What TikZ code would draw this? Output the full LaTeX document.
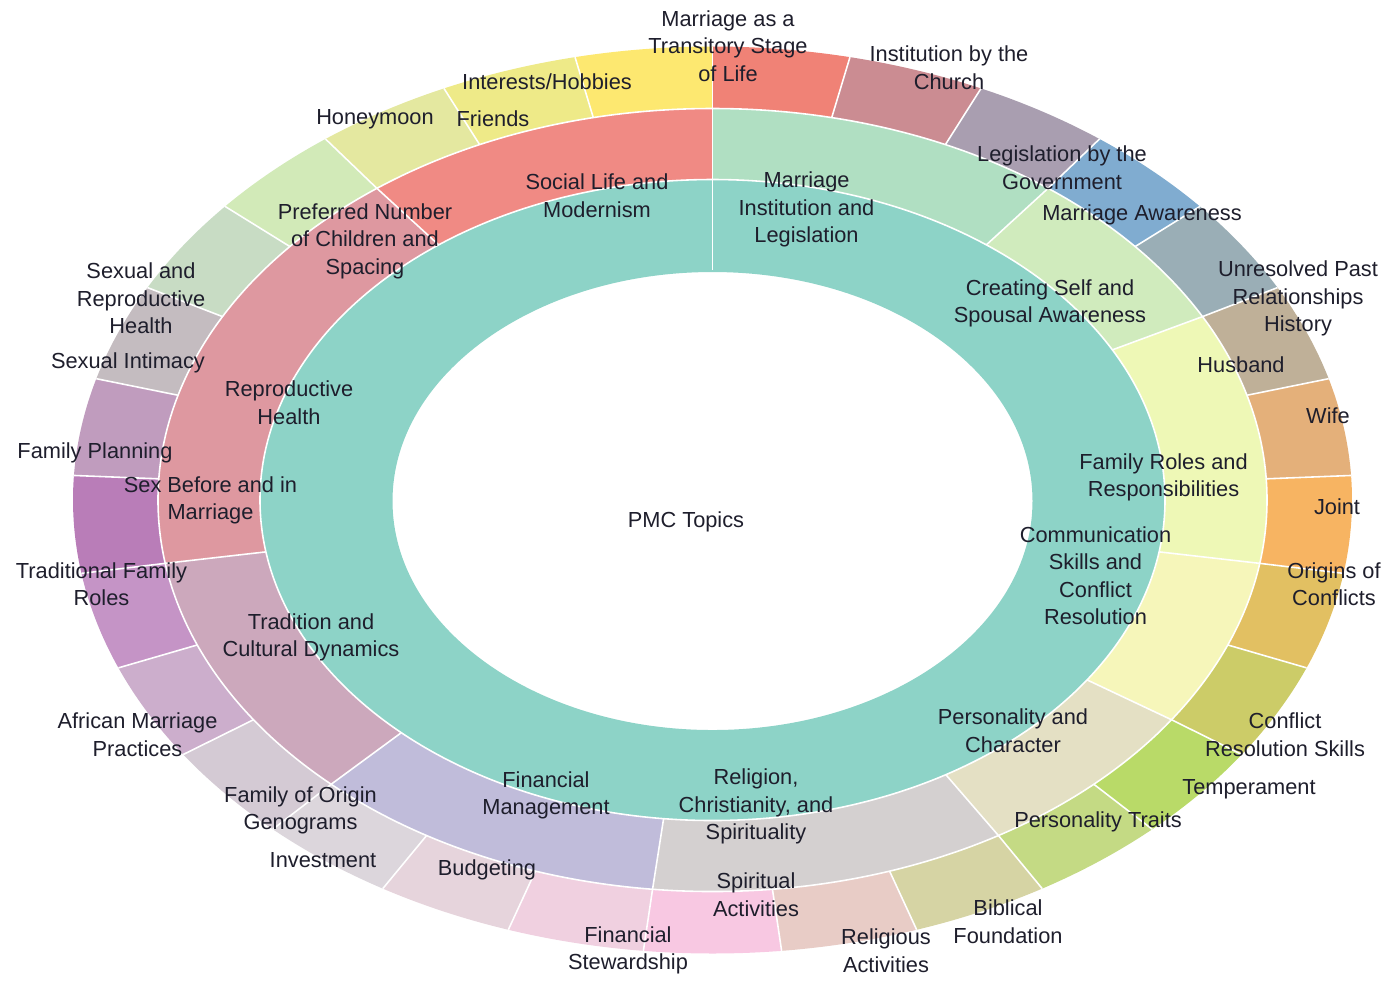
\documentclass[tikz,border=0pt]{standalone}
\usepackage{fontspec}
\setmainfont{Liberation Sans}
\definecolor{ink}{HTML}{1E1E2C}
\definecolor{root}{HTML}{8DD3C7}
\definecolor{mInst}{HTML}{B0DFC2}
\definecolor{mSelf}{HTML}{D0EBBD}
\definecolor{mRole}{HTML}{EEF8B6}
\definecolor{mComm}{HTML}{F6F6BA}
\definecolor{mPers}{HTML}{E4E0C4}
\definecolor{mRel}{HTML}{D4D0D0}
\definecolor{mFin}{HTML}{C0BCDA}
\definecolor{mTrad}{HTML}{CCA8BC}
\definecolor{mRepr}{HTML}{DE98A0}
\definecolor{mSoc}{HTML}{F08A84}
\definecolor{oA}{HTML}{F08276}
\definecolor{oB}{HTML}{CB8C92}
\definecolor{oC}{HTML}{A99EB0}
\definecolor{oD}{HTML}{80ACD0}
\definecolor{oE}{HTML}{9AAEB6}
\definecolor{oF}{HTML}{BFB098}
\definecolor{oG}{HTML}{E4B07A}
\definecolor{oH}{HTML}{F7B462}
\definecolor{oI}{HTML}{E2C062}
\definecolor{oJ}{HTML}{CCCC68}
\definecolor{oK}{HTML}{B9DA68}
\definecolor{oL}{HTML}{C4DA84}
\definecolor{oM}{HTML}{D6D4A4}
\definecolor{oN}{HTML}{E8CCC6}
\definecolor{oO}{HTML}{F8C8E2}
\definecolor{oP}{HTML}{F0D0E0}
\definecolor{oQ}{HTML}{E6D4DC}
\definecolor{oR}{HTML}{DCD6DC}
\definecolor{oS}{HTML}{D4CAD4}
\definecolor{oT}{HTML}{CCAECC}
\definecolor{oU}{HTML}{C594C6}
\definecolor{oV}{HTML}{B97DB8}
\definecolor{oW}{HTML}{C09CBE}
\definecolor{oX}{HTML}{C4BCC0}
\definecolor{oY}{HTML}{C8DCC4}
\definecolor{oZ}{HTML}{D2EAB8}
\definecolor{oAa}{HTML}{E4E8A0}
\definecolor{oAb}{HTML}{EEEA88}
\definecolor{oAc}{HTML}{FDE870}
\begin{document}
\begin{tikzpicture}[x=0.1mm, y=0.1mm,
    seg/.style={fill=#1},
    seam/.style={draw=white, line width=0.45pt},
    lbl/.style={font=\fontsize{6.2}{7.8}\selectfont, align=center, inner sep=0pt, text=ink}]
    \useasboundingbox (-712.5,-488) rectangle (684.5,500);
    \def\leafang{12.4138}

    \fill[root, even odd rule] (0,0) ellipse[x radius=452.5, y radius=320.5]
        (0,-1) ellipse[x radius=320, y radius=229];

    \foreach \a/\b/\c in {0/3/mInst, 3/5/mSelf, 5/8/mRole, 8/10/mComm, 10/12/mPers,
                          12/15/mRel, 15/18/mFin, 18/21/mTrad, 21/26/mRepr, 26/29/mSoc}
        \path[seg=\c] ({90-\a*\leafang}:452.5 and 320.5)
            arc[start angle={90-\a*\leafang}, end angle={90-\b*\leafang}, x radius=452.5, y radius=320.5]
            -- ({90-\b*\leafang}:554.5 and 391.5)
            arc[start angle={90-\b*\leafang}, end angle={90-\a*\leafang}, x radius=554.5, y radius=391.5]
            -- cycle;

    \foreach \c [count=\i from 0] in {oA,oB,oC,oD,oE,oF,oG,oH,oI,oJ,oK,oL,oM,oN,oO,
                                      oP,oQ,oR,oS,oT,oU,oV,oW,oX,oY,oZ,oAa,oAb,oAc}
        \path[seg=\c] ({90-\i*\leafang}:554.5 and 391.5)
            arc[start angle={90-\i*\leafang}, end angle={90-(\i+1)*\leafang}, x radius=554.5, y radius=391.5]
            -- ({90-(\i+1)*\leafang}:639.5 and 453.5)
            arc[start angle={90-(\i+1)*\leafang}, end angle={90-\i*\leafang}, x radius=639.5, y radius=453.5]
            -- cycle;

    \draw[seam] (0,0) ellipse[x radius=452.5, y radius=320.5];
    \draw[seam] (0,0) ellipse[x radius=554.5, y radius=391.5];
    \draw[seam] (90:320 and 230) -- (90:452.5 and 320.5);
    \foreach \a in {0,3,5,8,10,12,15,18,21,26}
        \draw[seam] ({90-\a*\leafang}:452.5 and 320.5) -- ({90-\a*\leafang}:554.5 and 391.5);
    \foreach \i in {0,...,28}
        \draw[seam] ({90-\i*\leafang}:554.5 and 391.5) -- ({90-\i*\leafang}:639.5 and 453.5);

    \node[lbl] (pmc) at (-26.5,-22) {PMC Topics};

    \node[lbl] (sociallife) at (-115.5,304.5) {Social Life and\\Modernism};
    \node[lbl] (institution) at (94,290.5) {Marriage\\Institution and\\Legislation};
    \node[lbl] (selfaware) at (337.5,196.5) {Creating Self and\\Spousal Awareness};
    \node[lbl] (familyroles) at (451,22.5) {Family Roles and\\Responsibilities};
    \node[lbl] (communication) at (383,-75.5) {Communication\\Skills and\\Conflict\\Resolution};
    \node[lbl] (personality) at (300.5,-230.5) {Personality and\\Character};
    \node[lbl] (religion) at (43.5,-306.5) {Religion,\\Christianity, and\\Spirituality};
    \node[lbl] (finance) at (-166.5,-295.5) {Financial\\Management};
    \node[lbl] (tradition) at (-401.5,-137.5) {Tradition and\\Cultural Dynamics};
    \node[lbl] (reproductive) at (-423.5,97.5) {Reproductive\\Health};

    \node[lbl] (transitory) at (15.5,454) {Marriage as a\\Transitory Stage\\of Life};
    \node[lbl] (church) at (236.5,432.5) {Institution by the\\Church};
    \node[lbl] (government) at (349.5,332.5) {Legislation by the\\Government};
    \node[lbl] (awareness) at (429.5,285) {Marriage Awareness};
    \node[lbl] (pastrel) at (585.5,201.5) {Unresolved Past\\Relationships\\History};
    \node[lbl] (husband) at (528.5,135) {Husband};
    \node[lbl] (wife) at (615.5,84) {Wife};
    \node[lbl] (joint) at (624.5,-7) {Joint};
    \node[lbl] (origins) at (621.5,-84) {Origins of\\Conflicts};
    \node[lbl] (resolution) at (572.5,-234.5) {Conflict\\Resolution Skills};
    \node[lbl] (temperament) at (536.5,-289) {Temperament};
    \node[lbl] (traits) at (385.5,-322) {Personality Traits};
    \node[lbl] (biblical) at (295.5,-421.5) {Biblical\\Foundation};
    \node[lbl] (religious) at (173.5,-450.5) {Religious\\Activities};
    \node[lbl] (spiritual) at (43.5,-394.5) {Spiritual\\Activities};
    \node[lbl] (stewardship) at (-84.5,-450.5) {Financial\\Stewardship};
    \node[lbl] (budgeting) at (-225.5,-370) {Budgeting};
    \node[lbl] (investment) at (-389.5,-360) {Investment};
    \node[lbl] (genograms) at (-412,-310.5) {Family of Origin\\Genograms};
    \node[lbl] (african) at (-575,-234.5) {African Marriage\\Practices};
    \node[lbl] (tradroles) at (-611,-84) {Traditional Family\\Roles};
    \node[lbl] (sexbefore) at (-502,-0.5) {Sex Before and in\\Marriage};
    \node[lbl] (planning) at (-617.5,47) {Family Planning};
    \node[lbl] (intimacy) at (-584.5,137) {Sexual Intimacy};
    \node[lbl] (srh) at (-571.5,201.5) {Sexual and\\Reproductive\\Health};
    \node[lbl] (children) at (-347.5,259) {Preferred Number\\of Children and\\Spacing};
    \node[lbl] (honeymoon) at (-337.5,381) {Honeymoon};
    \node[lbl] (friends) at (-219.5,381) {Friends};
    \node[lbl] (hobbies) at (-165.5,418) {Interests/Hobbies};
\end{tikzpicture}
\end{document}
